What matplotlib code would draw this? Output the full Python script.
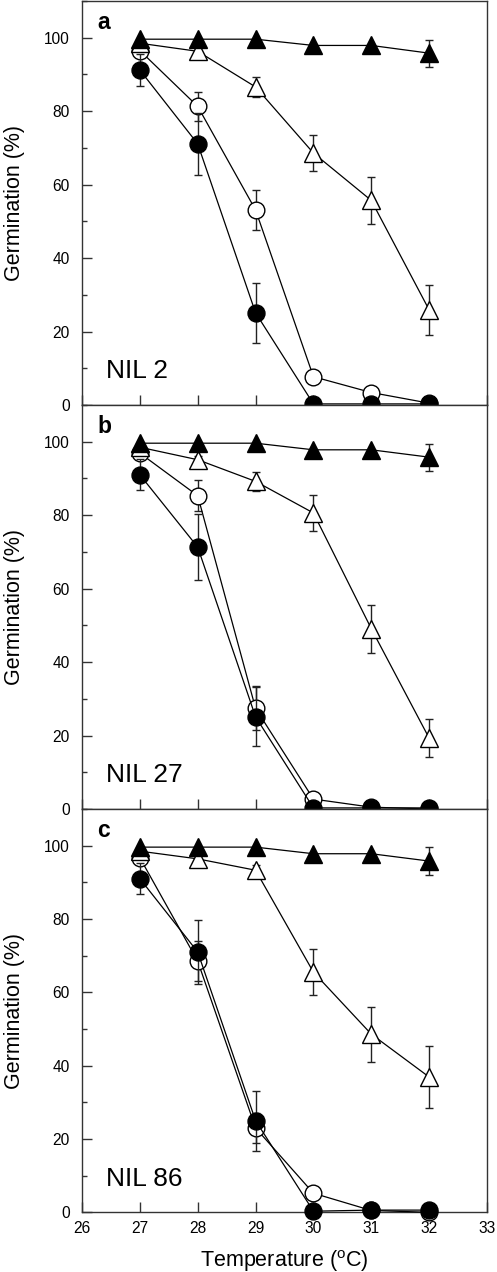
import matplotlib
matplotlib.use("Agg")
import matplotlib.pyplot as plt
from matplotlib.ticker import MultipleLocator

plt.rcParams['font.family'] = ['Liberation Sans', 'DejaVu Sans']
plt.rcParams['mathtext.fontset'] = 'custom'
plt.rcParams['mathtext.rm'] = 'Liberation Sans'

temps = [27, 28, 29, 30, 31, 32]
panel_letters = ['a', 'b', 'c']
panel_names = ['NIL 2', 'NIL 27', 'NIL 86']

# open circles
oc_vals = [[96.5, 81.3, 53.1, 7.7, 3.4, 0.5],
           [96.9, 85.3, 27.4, 2.7, 0.5, 0.0],
           [96.7, 68.5, 23.0, 5.2, 0.5, 0.0]]
oc_errs = [[1.5, 4.0, 5.5, 0, 0, 0],
           [1.5, 4.2, 6.0, 0, 0, 0],
           [1.5, 5.5, 4.0, 0, 0, 0]]
# filled circles
fc_vals = [[91.2, 71.1, 25.1, 0.3, 0.3, 0.3],
           [91.0, 71.3, 25.1, 0.3, 0.3, 0.3],
           [91.0, 71.0, 25.0, 0.3, 0.6, 0.6]]
fc_errs = [[4.4, 8.5, 8.2, 0, 0, 0],
           [4.2, 8.9, 8.0, 0, 0, 0],
           [4.2, 8.6, 8.2, 0, 0, 0]]
# open triangles
ot_vals = [[98.5, 96.3, 86.6, 68.6, 55.7, 25.9],
           [98.5, 95.1, 89.2, 80.6, 49.1, 19.3],
           [98.5, 96.4, 93.3, 65.5, 48.6, 36.9]]
ot_errs = [[1.0, 2.0, 2.7, 5.0, 6.5, 6.8],
           [1.0, 1.0, 2.5, 5.0, 6.5, 5.2],
           [1.0, 1.0, 1.5, 6.2, 7.5, 8.5]]
# filled triangles
ft_vals = [[99.6, 99.6, 99.6, 97.9, 97.9, 95.8],
           [99.6, 99.6, 99.6, 97.8, 97.8, 95.8],
           [99.6, 99.6, 99.6, 97.8, 97.8, 95.8]]
ft_errs = [[0, 0, 0, 0, 0, 3.7],
           [0, 0, 0, 0, 0, 3.7],
           [0, 0, 0, 0, 0, 3.7]]

W, H = 497, 1272
fig = plt.figure(figsize=(W / 100, H / 100), dpi=100)

left = 82 / W
width = (487 - 82) / W
bottoms_px = [405, 809, 1212.3]
tops_px = [1, 405, 809]

ecol = '#222222'
for i in range(3):
    b = 1 - bottoms_px[i] / H
    h = (bottoms_px[i] - tops_px[i]) / H
    ax = fig.add_axes([left, b, width, h])
    ax.set_xlim(26, 33)
    ax.set_ylim(0, 110)

    series = [
        (oc_vals[i], oc_errs[i], 'o', 'white', 12.0, 3),
        (ot_vals[i], ot_errs[i], '^', 'white', 12.5, 3),
        (fc_vals[i], fc_errs[i], 'o', 'black', 12.2, 4),
        (ft_vals[i], ft_errs[i], '^', 'black', 12.5, 5),
    ]
    for vals, errs, mk, fcol, ms, z in series:
        ax.errorbar(temps, vals, yerr=errs, fmt='none', ecolor=ecol,
                    elinewidth=1.0, capsize=3.0, capthick=1.0,
                    zorder=z - 0.5, clip_on=False)
        ax.plot(temps, vals, color='black', lw=0.9, marker=mk, ms=ms,
                mfc=fcol, mec='black', mew=1.0, zorder=z, clip_on=False)

    for s in ax.spines.values():
        s.set_linewidth(1.0)
        s.set_color('#333333')
        s.set_zorder(2)

    ax.yaxis.set_major_locator(MultipleLocator(20))
    ax.yaxis.set_minor_locator(MultipleLocator(10))
    ax.xaxis.set_major_locator(MultipleLocator(1))
    ax.tick_params(axis='y', which='major', direction='in', length=7.5,
                   width=1.0, labelsize=11.2, pad=9, color='#333333')
    ax.tick_params(axis='y', which='minor', direction='in', length=3.8,
                   width=1.0, color='#333333')
    ax.tick_params(axis='x', which='major', direction='in', length=7.5,
                   width=1.0, labelsize=11.2, pad=6, color='#333333')
    if i < 2:
        ax.tick_params(axis='x', labelbottom=False)
    else:
        ax.set_xlabel('Temperature ($^\\mathrm{o}$C)', fontsize=15.5, labelpad=9)

    ax.set_ylabel('Germination (%)', fontsize=15.5)
    ax.yaxis.set_label_coords(-0.14, 0.5)

    ax.text(26.26, 102.4, panel_letters[i], fontsize=16.5, fontweight='bold',
            ha='left', va='baseline')
    ax.text(26.41, 7.3, panel_names[i], fontsize=19, ha='left', va='baseline')

fig.savefig('out.png', dpi=100)
